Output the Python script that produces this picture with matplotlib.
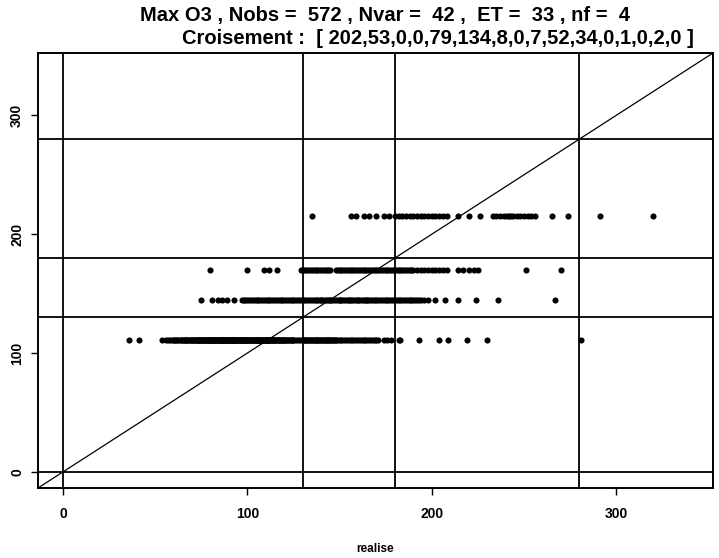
import matplotlib
matplotlib.use("Agg")
import matplotlib.pyplot as plt
import numpy as np

plt.rcParams['font.family'] = ['Liberation Sans', 'DejaVu Sans']

# ---- data ----
# predicted levels (4 leaves) and observed values ("realise") at each level
level_values = [111, 145, 170, 215]

obs_at_111 = [36, 41,
    54, 56, 57, 58, 59, 60, 60, 61, 62, 62, 63, 64, 64, 65, 65, 66, 66, 67, 67, 68, 68, 69, 69,
    70, 70, 70, 71, 71, 72, 72, 72, 73, 73, 74, 74, 74, 75, 75, 75, 76, 76, 76, 77, 77, 77,
    78, 78, 78, 79, 79, 79, 80, 80, 80, 80, 81, 81, 81, 82, 82, 82, 82, 83, 83, 83, 84, 84,
    84, 84, 85, 85, 85, 85, 86, 86, 86, 87, 87, 87, 87, 88, 88, 88, 88, 89, 89, 89, 90, 90,
    90, 90, 91, 91, 91, 92, 92, 92, 92, 93, 93, 93, 94, 94, 94, 94, 95, 95, 95, 96, 96, 96,
    96, 97, 97, 97, 98, 98, 98, 98, 99, 99, 99, 100, 100, 100, 100, 101, 101, 101, 102, 102,
    102, 103, 103, 103, 103, 104, 104, 104, 105, 105, 105, 106, 106, 106, 106, 107, 107, 107,
    108, 108, 108, 109, 109, 109, 110, 110, 110, 110, 111, 111, 111, 112, 112, 112, 113, 113,
    113, 114, 114, 114, 115, 115, 115, 116, 116, 117, 117, 117, 118, 118, 119, 119, 120, 120,
    120, 121, 121, 122, 122, 123, 123, 124, 124, 125, 125, 126, 127, 128, 129,
    130, 130, 131, 131, 132, 132, 133, 133, 134, 134, 135, 135, 136, 136, 137, 137, 138, 138,
    139, 139, 140, 140, 141, 141, 142, 142, 143, 143, 144, 144, 145, 145, 146, 146, 147, 147,
    148, 148, 149, 150, 151, 152, 153, 154, 155, 156, 157, 158, 159, 160, 161, 162, 163, 164,
    165, 166, 167, 168, 169, 170, 171, 174, 176, 178,
    182, 183, 193, 204, 209, 219, 230, 281]

obs_at_145 = [75, 81, 84, 86, 89, 93,
    97, 98, 99, 100, 101, 102, 103, 104, 105, 106, 107, 108, 109, 110, 111, 112, 113, 114,
    115, 116, 117, 118, 119, 120, 121, 122, 123, 124, 125, 126, 127, 128, 129,
    130, 131, 132, 133, 134, 135, 136, 137, 138, 139, 140, 140, 141, 142, 143, 144, 145, 145,
    146, 147, 148, 149, 150, 150, 151, 152, 153, 154, 155, 155, 156, 157, 158, 159, 160, 160,
    161, 162, 163, 164, 165, 165, 166, 167, 168, 169, 170, 171, 172, 173, 174, 175, 176, 177,
    178, 179,
    180, 181, 182, 183, 184, 185, 186, 187, 188, 189, 190, 191, 192, 193, 194, 196, 198,
    202, 207, 214, 224, 236, 267]

obs_at_170 = [80, 100, 109, 112, 116,
    129, 130, 131, 132, 133, 134, 135, 136, 137, 138, 139, 140, 141, 142, 143, 144, 145,
    148, 149, 150, 151, 152, 153, 154, 155, 156, 157, 158, 159, 160, 161, 162, 163, 164,
    165, 166, 167, 168, 169, 170, 171, 172, 173, 174, 175, 176, 177, 178, 179,
    180, 181, 182, 183, 184, 185, 186, 187, 188, 189, 190, 192, 194, 196, 198, 200, 202,
    204, 206, 208, 214, 217, 220, 223, 225, 251, 270]

obs_at_215 = [135, 156, 159, 163, 166, 170, 174, 177,
    180, 182, 184, 186, 188, 190, 192, 194, 196, 198, 200, 202, 204, 206, 208, 214, 220,
    226, 233, 235, 237, 239, 241, 242, 243, 244, 246, 248, 250, 252, 254, 256, 265, 274,
    291, 320]

thresholds = [0, 130, 180, 280]
x_ticks = [0, 100, 200, 300]
y_ticks = [0, 100, 200, 300]
title_line1 = "Max O3 , Nobs =  572 , Nvar =  42 ,  ET =  33 , nf =  4"
croisement = [202, 53, 0, 0, 79, 134, 8, 0, 7, 52, 34, 0, 1, 0, 2, 0]
title_line2 = "Croisement :  [ " + ",".join(str(v) for v in croisement) + " ]"
x_label = "realise"

# ---- figure ----
W, H = 719, 558
fig = plt.figure(figsize=(W / 100, H / 100), dpi=100)
ax = fig.add_axes([38 / W, 1 - 488 / H, (713 - 38) / W, (488 - 53) / H])

lim = (-13.5, 352.5)
ax.set_xlim(lim)
ax.set_ylim(lim)

for t in thresholds:
    ax.axvline(t, color='black', lw=1.3, zorder=2)
    ax.axhline(t, color='black', lw=1.3, zorder=2)
ax.plot(lim, lim, color='black', lw=0.9, zorder=2)

series = [obs_at_111, obs_at_145, obs_at_170, obs_at_215]
for lvl, xs in zip(level_values, series):
    ax.plot(xs, [lvl] * len(xs), 'o', color='black', ms=4.4, mew=0, zorder=3)

for s in ax.spines.values():
    s.set_linewidth(1.4)

ax.set_xticks(x_ticks)
ax.set_yticks(y_ticks)
ax.tick_params(direction='out', length=5, width=1.0, colors='black')
ax.tick_params(axis='x', pad=9)
ax.tick_params(axis='y', pad=5)
for lab in ax.get_xticklabels():
    lab.set_fontsize(10)
    lab.set_fontweight('bold')
for lab in ax.get_yticklabels():
    lab.set_fontsize(10)
    lab.set_fontweight('bold')
    lab.set_rotation(90)
    lab.set_va('center')

fig.text(384.5 / W, 1 - 21 / H, title_line1, ha='center', va='baseline',
         fontsize=14.5, fontweight='bold')
fig.text(438 / W, 1 - 44 / H, title_line2, ha='center', va='baseline',
         fontsize=14.5, fontweight='bold')
fig.text(375 / W, 1 - 549 / H, x_label, ha='center', va='center',
         fontsize=8.5, fontweight='bold')

fig.savefig("out.png", dpi=100)
